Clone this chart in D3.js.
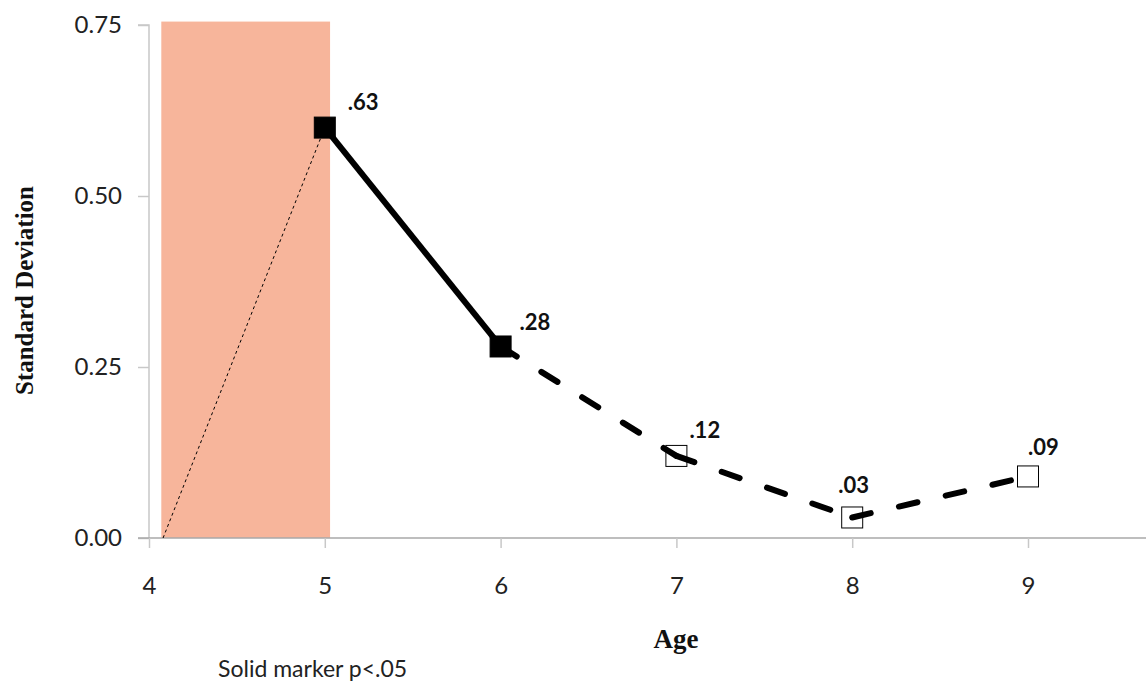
<!DOCTYPE html>
<html><head><meta charset="utf-8">
<script src="https://cdn.jsdelivr.net/npm/d3@7"></script>
<style>body{margin:0;background:#fff;} svg{display:block;}</style>
</head><body>
<svg id="c" width="1146" height="686"></svg>
<script>
const ages = [5, 6, 7, 8, 9];
const sdValues = [0.60, 0.28, 0.12, 0.03, 0.09];
const valueLabels = [".63", ".28", ".12", ".03", ".09"];
const significant = [true, true, false, false, false];
const yTicks = [0, 0.25, 0.5, 0.75];
const xTicks = [4, 5, 6, 7, 8, 9];
const shadedRange = [4.07, 5.03];
const guideStart = [4.08, 0];

const labelOffsets = [[23, -25], [19, -24], [13, -26], [-14, -32], [0, -29]];

const svg = d3.select("#c");
const x = d3.scaleLinear().domain([4, 9]).range([149, 1028]);
const y = d3.scaleLinear().domain([0, 0.75]).range([538, 25]);
const font = "Lato, 'Noto Sans', sans-serif";
const serif = "'Liberation Serif', 'Times New Roman', serif";

// shaded region
svg.append("rect")
  .attr("x", x(shadedRange[0])).attr("y", y(0.755))
  .attr("width", x(shadedRange[1]) - x(shadedRange[0]))
  .attr("height", y(0) - y(0.755))
  .attr("fill", "#F7B59B");

// y axis
const yAxis = svg.append("g").attr("transform", `translate(${x(4)},0)`)
  .call(d3.axisLeft(y).tickValues(yTicks).tickFormat(d3.format(".2f")).tickSize(11).tickPadding(16));
yAxis.select(".domain").attr("stroke", "#c8c8c8").attr("stroke-width", 1.5).attr("d", `M-11,${y(0.75)}H0V${y(0)}`);
yAxis.selectAll(".tick line").attr("stroke", "#c8c8c8").attr("stroke-width", 1.5);
yAxis.selectAll(".tick text").attr("font-family", font).attr("font-size", 24).attr("fill", "#222");

// x axis
const xAxis = svg.append("g").attr("transform", `translate(0,${y(0)})`)
  .call(d3.axisBottom(x).tickValues(xTicks).tickFormat(d3.format("d")).tickSize(10).tickPadding(29));
xAxis.select(".domain").attr("stroke", "#a8a8a8").attr("stroke-width", 1.5).attr("d", `M${x(4) - 11},0H1146`);
xAxis.selectAll(".tick line").attr("stroke", "#c8c8c8").attr("stroke-width", 1.5);
xAxis.selectAll(".tick text").attr("font-family", font).attr("font-size", 24).attr("fill", "#222");

// dotted guide
svg.append("line")
  .attr("x1", x(guideStart[0])).attr("y1", y(guideStart[1]))
  .attr("x2", x(ages[0])).attr("y2", y(sdValues[0]))
  .attr("stroke", "#000").attr("stroke-width", 1).attr("stroke-dasharray", "3,3");

const pts = ages.map((a, i) => [a, sdValues[i]]);
const line = d3.line().x(d => x(d[0])).y(d => y(d[1]));

// markers
svg.selectAll("rect.m").data(pts).enter().append("rect")
  .attr("class", "m")
  .attr("x", d => x(d[0]) - 10.5).attr("y", d => y(d[1]) - 10.5)
  .attr("width", 21).attr("height", 21)
  .attr("fill", (d, i) => significant[i] ? "#000" : "#fff")
  .attr("stroke", "#000").attr("stroke-width", 1);

// segments: solid between significant points, dashed otherwise (pattern restarts per segment)
const segs = d3.pairs(pts.map((p, i) => ({p, sig: significant[i]})));
svg.selectAll("path.seg").data(segs).enter().append("path")
  .attr("class", "seg")
  .attr("d", d => line([d[0].p, d[1].p]))
  .attr("fill", "none").attr("stroke", "#000").attr("stroke-width", 6)
  .attr("stroke-linecap", d => (d[0].sig && d[1].sig) ? "butt" : "round")
  .attr("stroke-dasharray", d => (d[0].sig && d[1].sig) ? null : "19,29");

// value labels
svg.selectAll("text.v").data(pts).enter().append("text")
  .attr("class", "v")
  .attr("x", (d, i) => x(d[0]) + labelOffsets[i][0])
  .attr("y", (d, i) => y(d[1]) + labelOffsets[i][1])
  .attr("dy", "0.35em")
  .attr("font-family", font).attr("font-weight", "bold").attr("font-size", 22)
  .attr("fill", "#111")
  .text((d, i) => valueLabels[i]);

// axis titles
svg.append("text").attr("x", 676).attr("y", 648).attr("text-anchor", "middle")
  .attr("font-family", serif).attr("font-weight", "bold")
  .attr("font-size", 27).attr("fill", "#111").text("Age");
svg.append("text").attr("transform", `translate(33,${(y(0) + y(0.75)) / 2 + 9}) rotate(-90)`)
  .attr("text-anchor", "middle")
  .attr("font-family", serif).attr("font-weight", "bold")
  .attr("font-size", 25).attr("fill", "#111").text("Standard Deviation");

svg.append("text").attr("x", 218).attr("y", 677)
  .attr("font-family", font).attr("font-size", 23).attr("fill", "#222").text("Solid marker p<.05");
</script>
</body></html>
